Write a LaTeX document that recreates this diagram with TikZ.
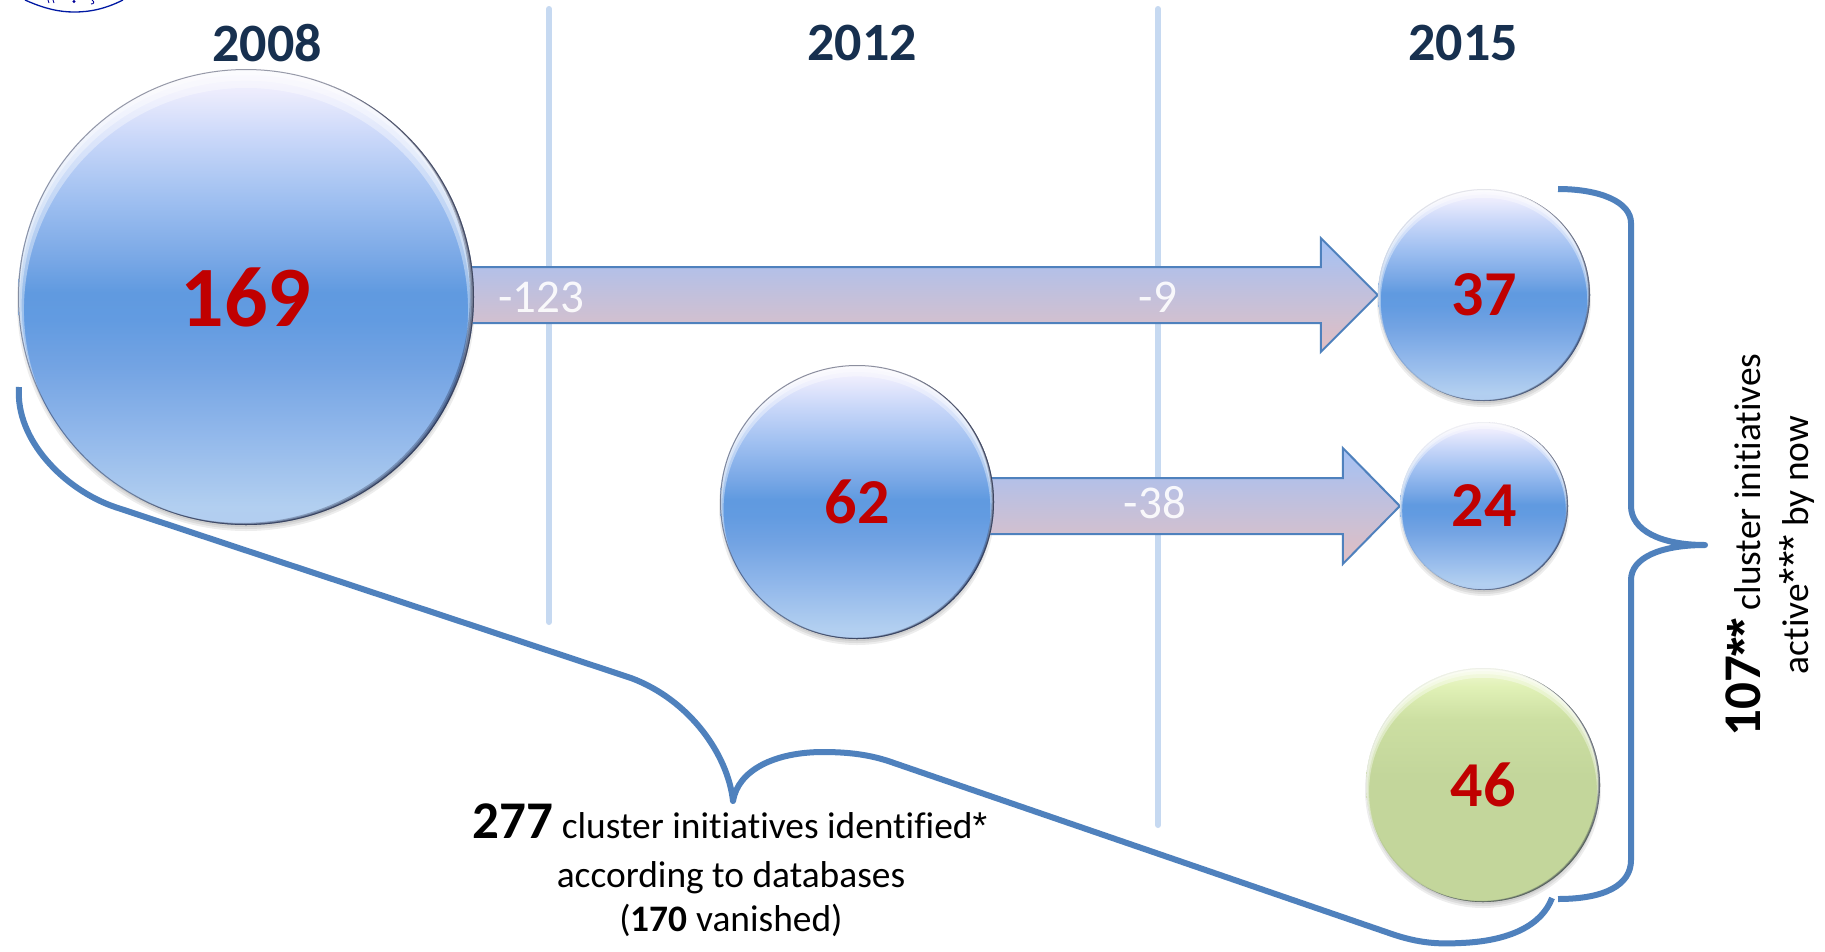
\documentclass[tikz,border=0pt]{standalone}
\usepackage{fontspec}
\setmainfont[Ligatures=NoCommon]{Carlito}
\newfontfamily\starfont{Liberation Sans}
\usetikzlibrary{calc,backgrounds}
\pgfdeclareverticalshading{bluedome}{100bp}{
  rgb(0bp)=(0.698,0.804,0.941);
  rgb(25bp)=(0.698,0.804,0.941);
  rgb(27bp)=(0.698,0.812,0.941);
  rgb(35bp)=(0.570,0.720,0.920);
  rgb(42.5bp)=(0.450,0.640,0.890);
  rgb(47.5bp)=(0.384,0.608,0.882);
  rgb(50.5bp)=(0.376,0.604,0.878);
  rgb(54bp)=(0.470,0.655,0.900);
  rgb(61bp)=(0.630,0.755,0.945);
  rgb(67.5bp)=(0.790,0.845,0.976);
  rgb(72.5bp)=(0.925,0.925,0.992);
  rgb(75bp)=(0.961,0.953,0.996);
  rgb(100bp)=(0.961,0.953,0.996)}
\pgfdeclareverticalshading{greendome}{100bp}{
  rgb(0bp)=(0.765,0.839,0.608);
  rgb(52bp)=(0.765,0.839,0.608);
  rgb(64bp)=(0.800,0.875,0.635);
  rgb(71bp)=(0.880,0.945,0.715);
  rgb(75bp)=(0.941,0.973,0.824);
  rgb(100bp)=(0.941,0.973,0.824)}
\definecolor{yearblue}{HTML}{17304F}
\definecolor{linkblue}{HTML}{4F81BD}
\definecolor{numred}{HTML}{C00000}
\definecolor{guide}{HTML}{C6D9F1}
\definecolor{a1top}{HTML}{A3C1F5}
\definecolor{a1bot}{HTML}{E2BFC2}
\definecolor{rimdark}{HTML}{1E2440}
\tikzset{
  bubble/.style 2 args={circle,inner sep=0pt,minimum size=2*#1 pt,font=\bfseries\fontsize{64}{64}\selectfont,text=numred,
    path picture={
      \coordinate (pc) at (path picture bounding box.center);
      \foreach \k in {0.008,0.016,0.026}{
        \fill[white,opacity=.38,even odd rule] (pc) circle ({1.03*#1 pt})
          ($(pc)+(0pt,{-2.2*\k*#1 pt})$) circle ({(1-\k)*#1 pt});
      }
      \foreach \k in {0.005,0.011,0.018}{
        \fill[rimdark,opacity=.3,even odd rule] (pc) circle ({1.03*#1 pt})
          ($(pc)+({-\k*#1 pt},{.5*\k*#1 pt})$) circle (#1 pt);
      }
      \draw[rimdark,opacity=#2,line width=2pt] (pc) circle (#1 pt);
    }},
  bluebubble/.style 2 args={bubble={#1}{#2},shading=bluedome},
  greenbubble/.style 2 args={bubble={#1}{#2},shading=greendome},
  yearlabel/.style={font=\bfseries\fontsize{54}{54}\selectfont,text=yearblue,inner sep=0pt},
  loss/.style={font=\fontsize{47}{47}\selectfont,text=white,text opacity=.9,inner sep=0pt},
  caption/.style={font=\fontsize{37.4}{37.4}\selectfont,text=black,inner sep=0pt,anchor=base},
  guideline/.style={draw=guide,line width=6pt,line cap=round},
  flow/.style={draw=linkblue,line width=2pt,line join=miter,top color=a1top,bottom color=a1bot},
  bracket/.style={draw=linkblue,line width=6pt,line cap=butt,line join=round},
}
\begin{document}
\begin{tikzpicture}[x=1pt,y=-1pt]
\useasboundingbox (0,0) rectangle (1825,951);
% circles
\node[bluebubble={228}{.45}] (n169) at (246,297) {\fontsize{86}{86}\selectfont 169};
\node[bluebubble={137}{.5}] (n62) at (857,502) {62};
\node[bluebubble={106}{.1}] (n37) at (1484,295) {37};
\node[bluebubble={84}{.05}] (n24) at (1484,506) {24};
\node[greenbubble={117}{.05}] (n46) at (1483,785) {46};
\begin{scope}[on background layer]
  \fill[white] (0,0) rectangle (1825,951);
  % logo fragment
  \coordinate (logoL) at (25,0); \coordinate (logoR) at (123,0);
  \draw[blue!60!black!90!cyan,line width=1.3pt] (logoL) .. controls (45,9) and (60,12) .. (74,12) .. controls (90,12) and (105,9) .. (logoR);
  \fill[blue!60!black] (74,1.5) circle (1.6pt);
  \draw[blue!60!black,line width=.9pt] (48,0) -- (49,3) (53,0) -- (54,3) (92,0) .. controls (95,2) and (94,4) .. (91,4);
  % guides
  \coordinate (g1t) at (549,9); \coordinate (g1b) at (549,622);
  \coordinate (g2t) at (1158,9); \coordinate (g2b) at (1158,825);
  \draw[guideline] (g1t) -- (g1b);
  \draw[guideline] (g2t) -- (g2b);
  % shadows of the circles and arrows
  \foreach \nm/\rr in {n169/228,n62/137,n37/106,n24/84,n46/117}{
    \foreach \g in {-5,-3,-1,1}{
      \fill[black,opacity=.07] ($(\nm.center)+(0,5)$) circle ({\rr+\g});
    }
  }
  % block arrows
  \coordinate (a1t) at ($(n37.west)+(-57,-28)$);
  \coordinate (a1b) at ($(n37.west)+(-57,28)$);
  \coordinate (a2t) at ($(n24.west)+(-57,-28)$);
  \coordinate (a2b) at ($(n24.west)+(-57,28)$);
  \draw[flow] (n169.center |- a1t) -- (a1t) -- ($(a1t)+(0,-29)$) -- (n37.west)
     -- ($(a1b)+(0,29)$) -- (a1b) -- (n169.center |- a1b) -- cycle;
  \draw[flow] (n62.center |- a2t) -- (a2t) -- ($(a2t)+(0,-30)$) -- (n24.west)
     -- ($(a2b)+(0,30)$) -- (a2b) -- (n62.center |- a2b) -- cycle;
\end{scope}
% years
\node[yearlabel] (y2008) at (267,43) {2008};
\node[yearlabel] (y2012) at (862,43) {2012};
\node[yearlabel] (y2015) at (1463,43) {2015};
% losses
\node[loss] (l123) at (541,297) {-123};
\node[loss] (l9) at (1158,297) {-9};
\node[loss] (l38) at (1155,503) {-38};
% right bracket
\coordinate (rs) at (1558,189); \coordinate (re) at (1558,899); \coordinate (rtip) at (1705,545);
\draw[bracket] (rs) .. controls (1600,189) and (1631,202) .. (1631,223) -- (1631,506)
   .. controls (1631,530) and (1660,545) .. (rtip)
   .. controls (1660,545) and (1631,558) .. (1631,580) -- (1631,860)
   .. controls (1631,885) and (1605,899) .. (re);
% lower bracket
\coordinate (ls) at (19,387); \coordinate (le) at (1552,898); \coordinate (ltip) at (733,801);
\draw[bracket] (ls) .. controls (15,440) and (65,490) .. (115,507) -- (631,678)
   .. controls (690,700) and (728,755) .. (ltip)
   .. controls (738,770) and (775,752) .. (823,752)
   .. controls (850,752) and (872,755) .. (894,763) -- (1389,933)
   .. controls (1420,944) and (1440,944) .. (1461,943)
   .. controls (1510,941) and (1542,925) .. (le);
% bottom caption
\node[caption] (c1) at (730,838) {{\bfseries\fontsize{53}{53}\selectfont 277} cluster initiatives identified{\starfont *}};
\node[caption] (c2) at (731,887) {according to databases};
\node[caption] (c3) at (731,931) {({\bfseries 170} vanished)};
% right caption
\node[caption,rotate=90] (r1) at (1760,545) {{\bfseries\fontsize{53}{53}\selectfont 107}{\starfont\bfseries\fontsize{48}{48}\selectfont **} cluster initiatives};
\node[caption,rotate=90] (r2) at (1808,545) {active{\starfont\fontsize{42}{42}\selectfont ***} by now};
\end{tikzpicture}
\end{document}
